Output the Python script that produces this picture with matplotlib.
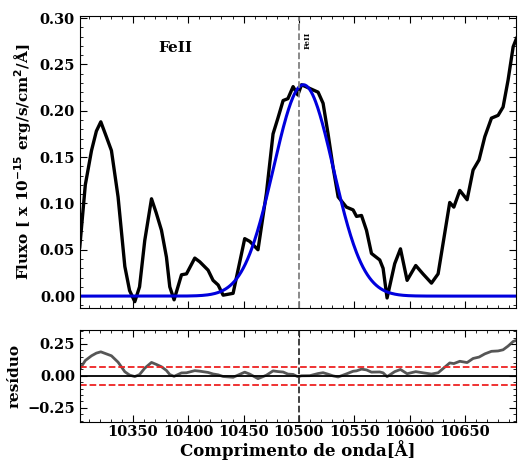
import numpy as np
import matplotlib
matplotlib.use('Agg')
import matplotlib.pyplot as plt
from matplotlib.ticker import MultipleLocator

# observed FeII region (wavelength in Angstrom, flux in 1e-15 erg/s/cm2/A)
wave = [10302, 10307, 10312.6, 10317, 10321, 10326, 10330.6, 10336.6, 10342.7, 10347, 10351.7,
        10356, 10360.7, 10366.8, 10371, 10375.8, 10380.3, 10383.3, 10387.2, 10393.9,
        10398.4, 10405.9, 10410.4, 10417.9, 10422.4, 10427, 10431.5, 10440.5,
        10451, 10455.6, 10463, 10470.6, 10476.6, 10481, 10485.7, 10490, 10494.7,
        10499, 10502.3, 10509.8, 10517.3, 10521.8, 10526.3, 10530.8, 10535.4,
        10542.9, 10548.9, 10552, 10556.5, 10561, 10565.5, 10573, 10576, 10579.6,
        10586.5, 10591.7, 10597.7, 10605.5, 10612, 10619.7, 10625.7, 10631.7,
        10636.2, 10639.9, 10645.3, 10651.9, 10657.3, 10662.7, 10667.9, 10673.9,
        10679.9, 10684.4, 10688.9, 10693.5, 10696.5]
flux = [0.053, 0.120, 0.157, 0.178, 0.188, 0.172, 0.157, 0.107, 0.032, 0.006, -0.006,
        0.010, 0.060, 0.105, 0.090, 0.071, 0.042, 0.010, -0.004, 0.023,
        0.024, 0.041, 0.037, 0.028, 0.017, 0.012, 0.001, 0.003,
        0.062, 0.059, 0.050, 0.111, 0.175, 0.192, 0.211, 0.213, 0.226,
        0.217, 0.228, 0.224, 0.220, 0.208, 0.175, 0.139, 0.107,
        0.096, 0.093, 0.086, 0.087, 0.071, 0.046, 0.039, 0.030, -0.002,
        0.035, 0.051, 0.017, 0.033, 0.024, 0.014, 0.024, 0.068,
        0.101, 0.096, 0.114, 0.104, 0.136, 0.147, 0.172, 0.192,
        0.195, 0.204, 0.233, 0.269, 0.278]

# gaussian fit parameters
amp = 0.228
center = 10504.0
sigma = 27.0
line_center = 10500.0

wave = np.array(wave)
flux = np.array(flux)
xfit = np.linspace(10302, 10697, 600)
yfit = amp * np.exp(-(xfit - center) ** 2 / (2 * sigma ** 2))
resid = flux - amp * np.exp(-(wave - center) ** 2 / (2 * sigma ** 2))

plt.rcParams['font.family'] = 'DejaVu Serif'
plt.rcParams['font.weight'] = 'bold'
plt.rcParams['axes.labelweight'] = 'bold'

fig = plt.figure(figsize=(5.18, 4.62), dpi=100)
ax1 = fig.add_axes([0.154, 0.333, 0.842, 0.632])
ax2 = fig.add_axes([0.154, 0.087, 0.842, 0.199])

ax1.plot(wave, flux, color='black', lw=2.4)
ax1.plot(xfit, yfit, color='#0000dd', lw=2.2)
ax1.axvline(line_center, color='gray', ls='--', lw=1.3)
ax1.text(line_center + 8, 0.285, 'FeII', rotation=90, fontsize=5.5, ha='center', va='top')
ax1.text(10388, 0.268, 'FeII', fontsize=11, ha='center', va='center')
ax1.set_xlim(10302, 10696)
ax1.set_ylim(-0.013, 0.302)
ax1.set_ylabel(r'Fluxo [ x 10$^{\mathbf{-15}}$ erg/s/cm$^{\mathbf{2}}$/Å]', fontsize=11)
ax1.yaxis.set_major_locator(MultipleLocator(0.05))
ax1.yaxis.set_minor_locator(MultipleLocator(0.01))
ax1.tick_params(labelbottom=False)

ax2.plot(wave, resid, color='#444444', lw=2.0, alpha=0.9)
ax2.axhline(0, color='black', lw=1.3)
ax2.axhline(0.07, color='#ee2222', ls='--', lw=1.3)
ax2.axhline(-0.07, color='#ee2222', ls='--', lw=1.3)
ax2.axvline(line_center, color='#333333', ls='--', lw=1.3)
ax2.set_xlim(10302, 10696)
ax2.set_ylim(-0.36, 0.36)
ax2.set_ylabel('resíduo', fontsize=11)
ax2.set_xlabel('Comprimento de onda[Å]', fontsize=12, labelpad=1)
ax2.yaxis.set_major_locator(MultipleLocator(0.25))
ax2.yaxis.set_minor_locator(MultipleLocator(0.05))

for ax in (ax1, ax2):
    ax.xaxis.set_major_locator(MultipleLocator(50))
    ax.xaxis.set_minor_locator(MultipleLocator(10))
    ax.tick_params(which='both', direction='in', top=True, right=True, labelsize=10.5)
    ax.tick_params(which='major', length=5)
    ax.tick_params(which='minor', length=2.5)
ax2.tick_params(axis='x', which='major', pad=2)

plt.savefig('out.png', dpi=100)
